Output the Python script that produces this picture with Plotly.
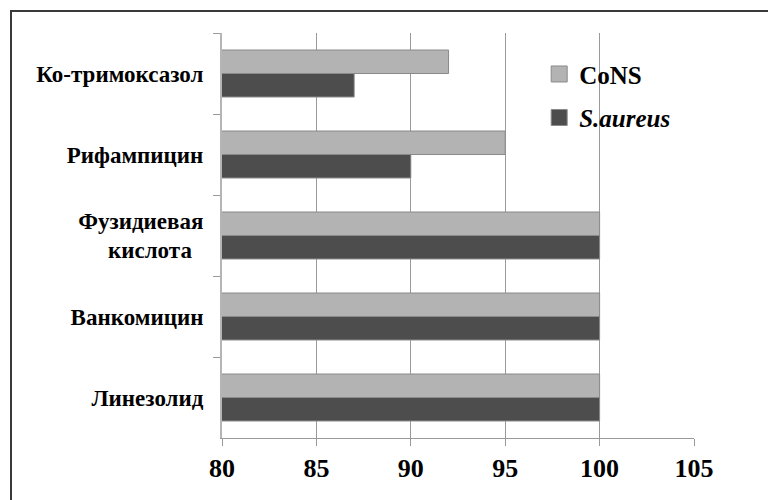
import plotly.graph_objects as go

categories = ["Ко-тримоксазол", "Рифампицин", "Фузидиевая<br>кислота\u00a0\u00a0", "Ванкомицин", "Линезолид"]
cons_values = [92, 95, 100, 100, 100]
saureus_values = [87, 90, 100, 100, 100]
series_names = ["CoNS", "<i>S.aureus</i>"]
series_colors = ["#b3b3b3", "#4d4d4d"]
x_ticks = [80, 85, 90, 95, 100, 105]

fig = go.Figure()
for name, vals, col in zip(series_names, [cons_values, saureus_values], series_colors):
    fig.add_trace(go.Bar(
        y=categories, x=vals, orientation="h", base=0,
        marker=dict(color=col, line=dict(color="#8a8a8a", width=1)),
        showlegend=False, hoverinfo="x+y",
    ))
    fig.add_trace(go.Scatter(
        x=[None], y=[None], mode="markers", name=name,
        marker=dict(symbol="square", size=19, color=col, line=dict(color="#8a8a8a", width=1)),
    ))

font_family = "Liberation Serif"
W, H = 768, 492
L, T = 214, 25
PW, PH = 472, 405
fig.update_layout(
    width=W, height=H,
    margin=dict(l=L, r=W - L - PW, t=T, b=H - T - PH, autoexpand=False),
    paper_bgcolor="white", plot_bgcolor="white",
    barmode="group", bargap=0.42, bargroupgap=0,
    font=dict(family=font_family, color="black"),
    legend=dict(
        x=0.672, y=0.955, xanchor="left", yanchor="top",
        font=dict(family=font_family, size=25, color="black", weight="bold"),
        bgcolor="rgba(0,0,0,0)", tracegroupgap=8, traceorder="grouped",
    ),
    shapes=[dict(
        type="rect", xref="paper", yref="paper",
        x0=(3 - L) / PW, x1=1.3, y0=-0.3, y1=(T + PH - 3) / PH,
        line=dict(color="#3a3a3a", width=2), layer="above",
    )],
)
for i, tr in enumerate(fig.data):
    if tr.type == "scatter":
        tr.legendgroup = f"g{i}"

fig.update_xaxes(
    range=[80, 105], tickvals=x_ticks,
    showgrid=True, gridcolor="#9a9a9a", gridwidth=1,
    showline=True, linecolor="#9a9a9a", linewidth=1,
    ticks="outside", ticklen=7, tickcolor="#9a9a9a", tickwidth=1,
    tickfont=dict(family=font_family, size=26, color="black", weight="bold"),
    zeroline=False,
)
fig.update_yaxes(
    type="category", categoryorder="array", categoryarray=categories,
    autorange="reversed",
    showline=True, linecolor="#b5b5b5", linewidth=2,
    ticks="outside", tickson="boundaries", ticklen=7, tickcolor="#9a9a9a", tickwidth=1,
    tickfont=dict(family=font_family, size=23, color="black", weight="bold"),
    ticklabelstandoff=12, showgrid=False,
)

fig.write_html("out.html")
